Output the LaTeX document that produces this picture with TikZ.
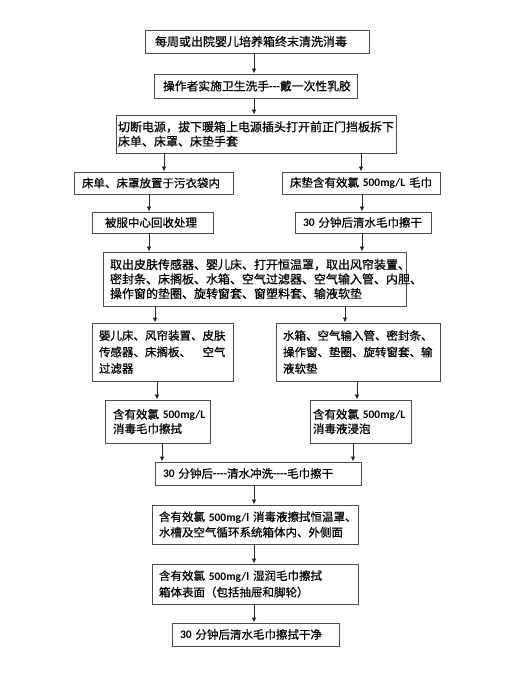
\documentclass[tikz,border=0pt]{standalone}
\usepackage{fontspec}
\setmainfont{Noto Sans CJK SC}[RawFeature={embolden=0.6}]
\newfontfamily\numf{Carlito}
\usetikzlibrary{arrows.meta}
\newcommand\nm[1]{{\numf\bfseries #1}}
\newcommand\tline[1]{\mbox{#1}}
\begin{document}
\begin{tikzpicture}[x=1pt,y=-1pt,
  box/.style={draw=black!70,line width=0.9pt,inner sep=0pt,align=left,
    font=\fontsize{11.5}{14.5}\selectfont,text=black},
  big/.style={font=\fontsize{12}{14.5}\selectfont},
  arr/.style={draw=black!85,line width=0.8pt,-{Latex[length=5pt,width=4.5pt]}}]
\useasboundingbox (0,0) rectangle (522,677);
\node[box,big,minimum width=224,minimum height=23,text width=204] (b1) at (257,41.5) {\tline{每周或出院婴儿培养箱终末清洗消毒}};
\node[box,font=\fontsize{11.8}{14}\selectfont,minimum width=203,minimum height=24,text width=185] (b2) at (255.5,86) {\tline{操作者实施卫生洗手\nm{-{}-{}-}戴一次性乳胶}};
\node[box,big,minimum width=280,minimum height=38,text width=276] (b3) at (256,134) {\tline{切断电源，拔下暖箱上电源插头打开前正门挡板拆下}\\\tline{床单、床罩、床垫手套}};
\node[box,minimum width=159,minimum height=22,text width=143] (b4) at (153.5,183) {\tline{床单、床罩放置于污衣袋内}};
\node[box,minimum width=158,minimum height=22,text width=142] (b5) at (361,183) {\tline{床垫含有效氯 \nm{500mg/L} 毛巾}};
\node[box,minimum width=121,minimum height=21,text width=95] (b6) at (152.5,222.5) {\tline{被服中心回收处理}};
\node[box,minimum width=136,minimum height=21,text width=120] (b7) at (363,222.5) {\tline{\nm{30} 分钟后清水毛巾擦干}};
\node[box,big,minimum width=303,minimum height=54,text width=289] (b8) at (254.5,279) {\tline{取出皮肤传感器、婴儿床、打开恒温罩，取出风帘装置、}\\\tline{密封条、床搁板、水箱、空气过滤器、空气输入管、内胆、}\\\tline{操作窗的垫圈、旋转窗套、窗塑料套、输液软垫}};
\node[box,font=\fontsize{11.5}{16.5}\selectfont,minimum width=141,minimum height=58,text width=127] (b9) at (162.5,352) {\tline{婴儿床、风帘装置、皮肤}\\\tline{传感器、床搁板、\quad 空气}\\\tline{过滤器}};
\node[box,font=\fontsize{11.5}{16.5}\selectfont,minimum width=164,minimum height=58,text width=150] (b10) at (358,352) {\tline{水箱、空气输入管、密封条、}\\\tline{操作窗、垫圈、旋转窗套、输}\\\tline{液软垫}};
\node[box,minimum width=105,minimum height=43,text width=89] (b11) at (157.5,421.5) {\tline{含有效氯 \nm{500mg/L}}\\\tline{消毒毛巾擦拭}};
\node[box,minimum width=101,minimum height=43,text width=95] (b12) at (360.5,421.5) {\tline{含有效氯 \nm{500mg/L}}\\\tline{消毒液浸泡}};
\node[box,minimum width=206,minimum height=23,text width=190] (b13) at (258,473.5) {\tline{\nm{30} 分钟后\nm{-{}-{}-{}-}清水冲洗\nm{-{}-{}-{}-}毛巾擦干}};
\node[box,font=\fontsize{11.5}{15.5}\selectfont,minimum width=206,minimum height=39,text width=192] (b14) at (255,524.5) {\tline{含有效氯 \nm{500mg/l} 消毒液擦拭恒温罩、}\\\tline{水槽及空气循环系统箱体内、外侧面}};
\node[box,font=\fontsize{11.5}{16.5}\selectfont,minimum width=206,minimum height=40,text width=192] (b15) at (255,584) {\tline{含有效氯 \nm{500mg/l} 湿润毛巾擦拭}\\\tline{箱体表面（包括抽屉和脚轮）}};
\node[box,minimum width=167,minimum height=23,text width=151] (b16) at (255.5,634.5) {\tline{\nm{30} 分钟后清水毛巾擦拭干净}};
\draw[arr] (b1.south -| 254,0) -- (b2.north -| 254,0);
\draw[arr] (b2.south -| 254,0) -- (b3.north -| 254,0);
\draw[arr] (b3.south -| 164,0) -- (b4.north -| 164,0);
\draw[arr] (b3.south -| 361,0) -- (b5.north -| 361,0);
\draw[arr] (b4.south -| 149,0) -- (b6.north -| 149,0);
\draw[arr] (b5.south -| 362,0) -- (b7.north -| 362,0);
\draw[arr] (b6.south -| 149,0) -- (b8.north -| 149,0);
\draw[arr] (b7.south -| 362,0) -- (b8.north -| 362,0);
\draw[arr] (b8.south -| 155,0) -- (b9.north -| 155,0);
\draw[arr] (b8.south -| 345,0) -- (b10.north -| 345,0);
\draw[arr] (b9.south -| 157,0) -- (b11.north -| 157,0);
\draw[arr] (b10.south -| 357,0) -- (b12.north -| 357,0);
\draw[arr] (b11.south -| 162,0) -- (b13.north -| 162,0);
\draw[arr] (b12.south -| 353,0) -- (b13.north -| 353,0);
\draw[arr] (b13.south -| 254,0) -- (b14.north -| 254,0);
\draw[arr] (b14.south -| 254,0) -- (b15.north -| 254,0);
\draw[arr] (b15.south -| 254,0) -- (b16.north -| 254,0);
\end{tikzpicture}
\end{document}
